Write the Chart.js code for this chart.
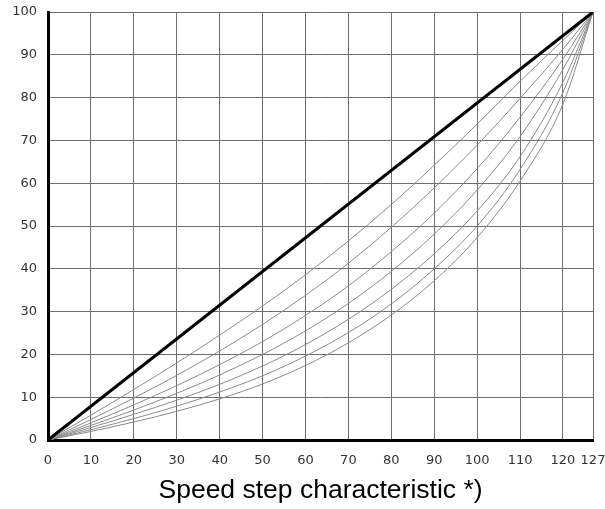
<!DOCTYPE html>
<html>
<head>
<meta charset="utf-8">
<title>Speed step characteristic</title>
<script src="https://cdn.jsdelivr.net/npm/chart.js@4.4.1/dist/chart.umd.min.js"></script>
<style>
  html, body { margin: 0; padding: 0; background: #fff; }
  #speed-chart { display: block; }
</style>
</head>
<body>
<canvas id="speed-chart" width="605" height="509"></canvas>
<script>
// Speed steps along the x axis (0..127)
const speedSteps = [0, 10, 20, 30, 40, 50, 60, 70, 80, 90, 100, 110, 120, 127];

// Straight characteristic (the thick line), just its two ends
const linearSteps = [0, 127];
const linearSpeed = [0, 100];

// Curved characteristics (percent of top speed)
const curve1 = [0, 5.8, 11.8, 18.0, 24.5, 31.3, 38.6, 46.5, 55.0, 64.2, 73.8, 83.8, 93.4, 100];
const curve2 = [0, 4.8, 9.8, 15.1, 20.8, 27.0, 33.8, 41.3, 49.7, 58.9, 68.9, 79.8, 91.3, 100];
const curve3 = [0, 4.0, 8.2, 12.7, 17.6, 23.0, 29.1, 36.0, 44.0, 53.0, 63.4, 75.4, 89.0, 100];
const curve4 = [0, 3.4, 7.0, 10.9, 15.2, 20.0, 25.5, 31.9, 39.4, 48.1, 58.4, 70.9, 86.6, 100];
const curve5 = [0, 2.9, 6.0, 9.3, 13.0, 17.3, 22.3, 28.2, 35.2, 43.5, 53.5, 66.2, 83.6, 100];
const curve6 = [0, 2.4, 5.0, 7.9, 11.2, 15.0, 19.6, 25.1, 31.8, 40.0, 50.0, 63.2, 81.2, 100];
const curve7 = [0, 2.0, 4.2, 6.7, 9.6, 13.1, 17.4, 22.7, 29.2, 37.2, 47.3, 60.5, 78.5, 100];
const curves = [curve1, curve2, curve3, curve4, curve5, curve6, curve7];

// Tick labels
const xTickValues = [0, 10, 20, 30, 40, 50, 60, 70, 80, 90, 100, 110, 120, 127];
const yTickValues = [0, 10, 20, 30, 40, 50, 60, 70, 80, 90, 100];
const axisTitle = 'Speed step characteristic *)';

document.addEventListener('DOMContentLoaded', function () {
    const ctx = document.getElementById('speed-chart').getContext('2d');

    // pair up x and y arrays into points for the linear x scale
    const toPoints = (xs, ys) => xs.map((x, i) => ({ x: x, y: ys[i] }));

    // first dataset is drawn on top, so the thick line goes first
    const datasets = [{
        label: 'linear',
        data: toPoints(linearSteps, linearSpeed),
        borderColor: '#000',
        borderWidth: 3,
        pointRadius: 0,
        fill: false
    }];
    curves.forEach((c, i) => {
        datasets.push({
            label: 'curve ' + (i + 1),
            data: toPoints(speedSteps, c),
            borderColor: '#8a8a8a',
            borderWidth: 1,
            pointRadius: 0,
            cubicInterpolationMode: 'monotone',
            fill: false
        });
    });

    const tickFont = { family: 'DejaVu Sans', size: 13 };
    const gridColor = '#6e6e6e';

    new Chart(ctx, {
        type: 'line',
        data: { datasets: datasets },
        options: {
            responsive: false,
            animation: false,
            layout: { padding: { top: 12, right: 12, left: 0, bottom: 0 } },
            plugins: {
                legend: { display: false },
                tooltip: { enabled: false }
            },
            scales: {
                x: {
                    type: 'linear',
                    min: 0,
                    max: 127,
                    afterBuildTicks: scale => { scale.ticks = xTickValues.map(v => ({ value: v })); },
                    afterFit: scale => {
                        scale.height = 69;
                        // labels may overhang, the plot area should not shrink for them
                        scale.paddingLeft = 0;
                        scale.paddingRight = 0;
                    },
                    grid: { color: gridColor, lineWidth: 1, drawTicks: false },
                    border: { color: '#000', width: 3 },
                    ticks: { autoSkip: false, maxRotation: 0, padding: 13, color: '#333', font: tickFont },
                    title: {
                        display: true,
                        text: axisTitle,
                        color: '#000',
                        font: { family: 'Liberation Sans', size: 26.5 },
                        padding: { top: 0, bottom: 2 }
                    }
                },
                y: {
                    type: 'linear',
                    min: 0,
                    max: 100,
                    afterBuildTicks: scale => { scale.ticks = yTickValues.map(v => ({ value: v })); },
                    afterFit: scale => {
                        scale.width = 48;
                        scale.paddingTop = 0;
                        scale.paddingBottom = 0;
                    },
                    grid: { color: gridColor, lineWidth: 1, drawTicks: false },
                    border: { color: '#000', width: 3 },
                    ticks: { autoSkip: false, padding: 11, color: '#333', font: tickFont }
                }
            }
        }
    });
});
</script>
</body>
</html>
